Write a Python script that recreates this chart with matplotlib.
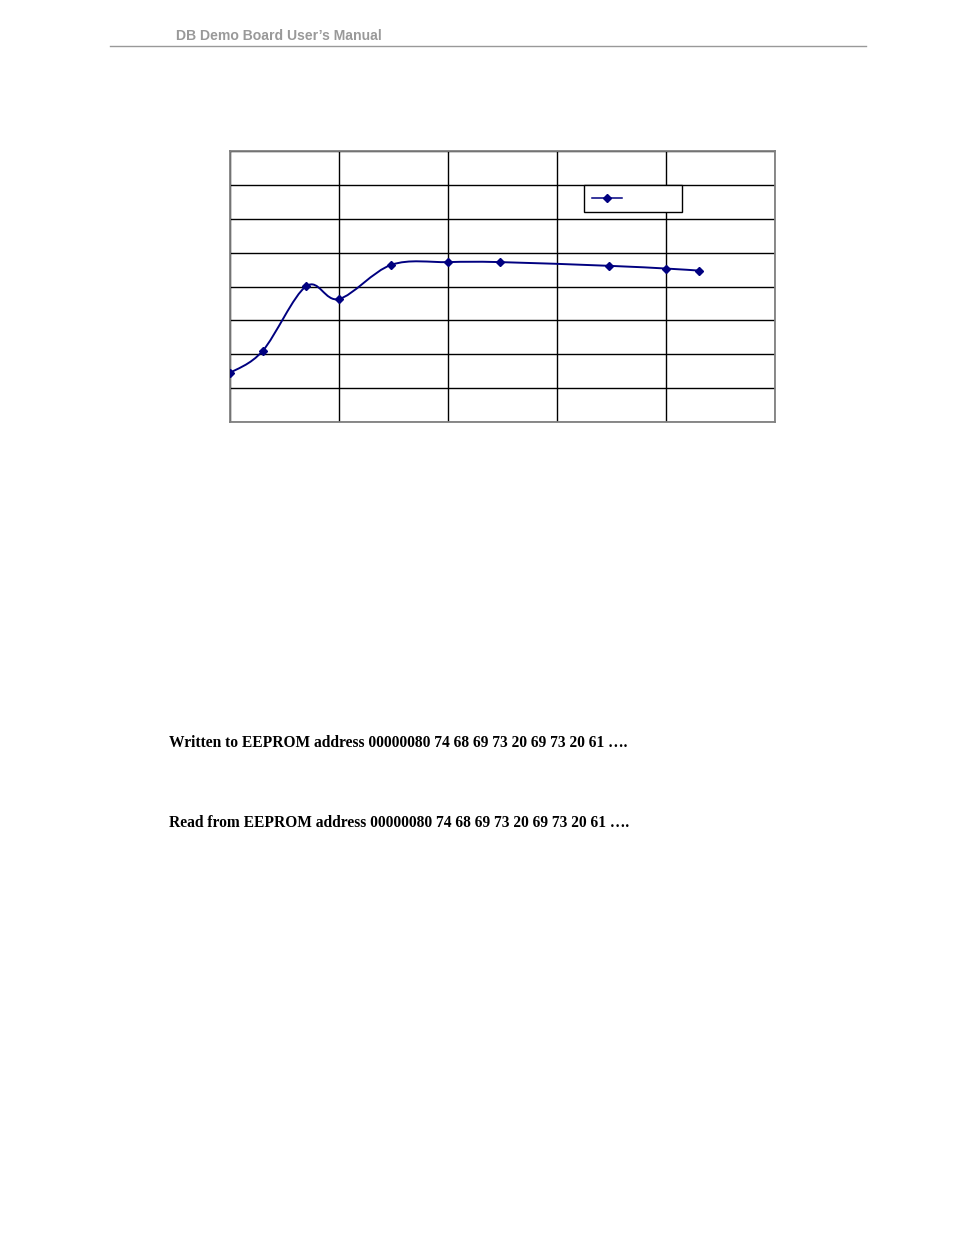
import matplotlib
matplotlib.use('Agg')
import matplotlib.pyplot as plt
from matplotlib.path import Path
from matplotlib.patches import PathPatch
import numpy as np


# Params
W, H = 954, 1235
HEADER = "DB Demo Board User\u2019s Manual"
LINE1 = "Written to EEPROM address 00000080 74 68 69 73 20 69 73 20 61 \u2026."
LINE2 = "Read from EEPROM address 00000080 74 68 69 73 20 69 73 20 61 \u2026."
NAVY = '#000080'

# data (no tick labels shown on the original)
x_vals = [0, 3, 7, 10, 14.8, 20, 24.8, 34.8, 40, 43]
y_vals = [1.45, 2.10, 4.01, 3.63, 4.64, 4.72, 4.72, 4.61, 4.53, 4.47]
x_ticks = [0, 10, 20, 30, 40, 50]
y_ticks = [0, 1, 2, 3, 4, 5, 6, 7, 8]


def smoothPath(xs, ys):
    # excel style smoothed line: bezier segments through each point
    pts = np.column_stack([xs, ys])
    verts = [pts[0]]
    codes = [Path.MOVETO]
    n = len(pts)
    for i in range(n - 1):
        p0 = pts[max(i - 1, 0)]
        p1 = pts[i]
        p2 = pts[i + 1]
        p3 = pts[min(i + 2, n - 1)]
        verts += [p1 + (p2 - p0) / 6, p2 - (p3 - p1) / 6, p2]
        codes += [Path.CURVE4] * 3
    return Path(verts, codes)


fig = plt.figure(figsize=(W / 100, H / 100), dpi=100)

# page header
fig.text(176 / W, 1 - 35.5 / H, HEADER, fontsize=10.1, fontweight='bold',
         family='Liberation Sans', color='#999999', va='center', ha='left')
fig.add_artist(plt.Line2D([110 / W, 866 / W], [1 - 46 / H, 1 - 46 / H],
                          color='#999999', lw=1))

# chart
ax = fig.add_axes([230 / W, 1 - 422 / H, 545 / W, 271 / H])
ax.set_xlim(x_ticks[0], x_ticks[-1])
ax.set_ylim(y_ticks[0], y_ticks[-1])
ax.set_xticks(x_ticks)
ax.set_yticks(y_ticks)
ax.tick_params(length=0, labelbottom=False, labelleft=False)
ax.grid(True, color='black', lw=1)
ax.set_axisbelow(True)
for s in ax.spines.values():
    s.set_color('#808080')
    s.set_linewidth(1.3)

ax.add_patch(PathPatch(smoothPath(x_vals, y_vals), fill=False,
                       edgecolor=NAVY, lw=1.4, zorder=3))
pts, = ax.plot(x_vals, y_vals, ls='none', marker='D', ms=4.5,
               color=NAVY, zorder=4)
# legend handle looks like line + marker
hnd, = ax.plot([], [], color=NAVY, lw=1.1, marker='D', ms=4.5)
lx0 = (583.6 - 230) / 545
lw_ = (681.8 - 583.6) / 545
ly1 = (422 - 185.3) / 271
leg = ax.legend([hnd], [' '], loc='upper left',
                bbox_to_anchor=(lx0, ly1 - 0.1, lw_, 0.1), mode='expand',
                borderaxespad=0, fontsize=8, handlelength=2.7,
                borderpad=0.75, fancybox=False, framealpha=1,
                edgecolor='black')
leg.get_frame().set_linewidth(1)

# text below the chart
for txt, ypix in [(LINE1, 743), (LINE2, 823)]:
    fig.text(169 / W, 1 - ypix / H, txt, fontsize=11.2, fontweight='bold',
             family='Liberation Serif', va='center', ha='left')

plt.savefig('out.png', dpi=100)
